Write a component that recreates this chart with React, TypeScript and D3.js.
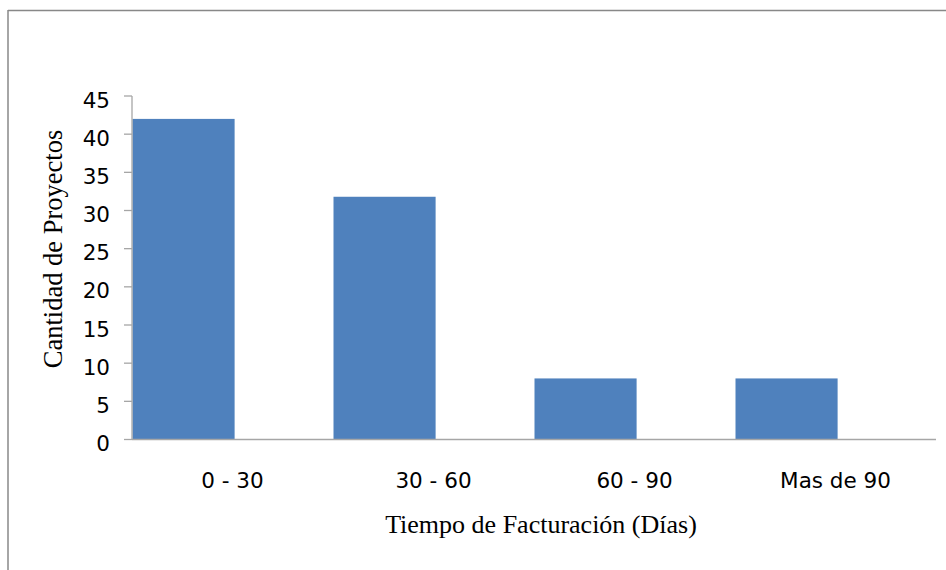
import React from "react";
import * as d3 from "d3";

const categories = ["0 - 30", "30 - 60", "60 - 90", "Mas de 90"];
const values = [42, 31.8, 8, 8];
const yTicks = [0, 5, 10, 15, 20, 25, 30, 35, 40, 45];
const xTitle = "Tiempo de Facturación (Días)";
const yTitle = "Cantidad de Proyectos";

const W = 946;
const H = 570;
const left = 132;
const right = 936;
const top = 96;
const bottom = 439.5;

export default function App() {
  const x = d3.scaleBand<string>().domain(categories).range([left, right]).padding(0);
  const y = d3.scaleLinear().domain([0, 45]).range([bottom, top]);
  const bw = x.bandwidth();
  const labelFont = "'DejaVu Sans', sans-serif";
  const titleFont = "'Liberation Serif', 'Times New Roman', serif";

  return (
    <svg
      width={W}
      height={H}
      viewBox={`0 0 ${W} ${H}`}
      style={{ position: "absolute", left: 0, top: 0, background: "#fff" }}
    >
      {/* outer frame (cropped on the right and bottom) */}
      <line x1={8} y1={10.5} x2={W} y2={10.5} stroke="#888" strokeWidth={1.5} />
      <line x1={8} y1={10} x2={8} y2={H} stroke="#888" strokeWidth={1.5} />

      {/* bars */}
      {categories.map((c, i) => (
        <rect
          key={c}
          x={(x(c) as number) + 0.5}
          y={y(values[i])}
          width={bw * 0.508}
          height={y(0) - y(values[i])}
          fill="#4f81bd"
        />
      ))}

      {/* y axis */}
      <line x1={left} y1={top} x2={left} y2={bottom} stroke="#a6a6a6" strokeWidth={1.3} />
      {yTicks.map((t) => (
        <g key={t}>
          <line x1={left - 8} y1={y(t)} x2={left} y2={y(t)} stroke="#a6a6a6" strokeWidth={1.3} />
          <text
            x={110}
            y={y(t) + 11.5}
            textAnchor="end"
            fontFamily={labelFont}
            fontSize={21.5}
            fill="#000"
          >
            {t}
          </text>
        </g>
      ))}

      {/* x axis */}
      <line x1={left} y1={bottom} x2={right} y2={bottom} stroke="#a6a6a6" strokeWidth={1.3} />
      {categories.map((c) => (
        <text
          key={c}
          x={(x(c) as number) + bw / 2}
          y={488}
          textAnchor="middle"
          fontFamily={labelFont}
          fontSize={21.5}
          fill="#000"
        >
          {c}
        </text>
      ))}

      {/* axis titles */}
      <text
        x={541}
        y={533}
        textAnchor="middle"
        fontFamily={titleFont}
        fontSize={26}
        fill="#000"
      >
        {xTitle}
      </text>
      <text
        transform={`translate(62,249) rotate(-90)`}
        textAnchor="middle"
        fontFamily={titleFont}
        fontSize={26.5}
        fill="#000"
      >
        {yTitle}
      </text>
    </svg>
  );
}
